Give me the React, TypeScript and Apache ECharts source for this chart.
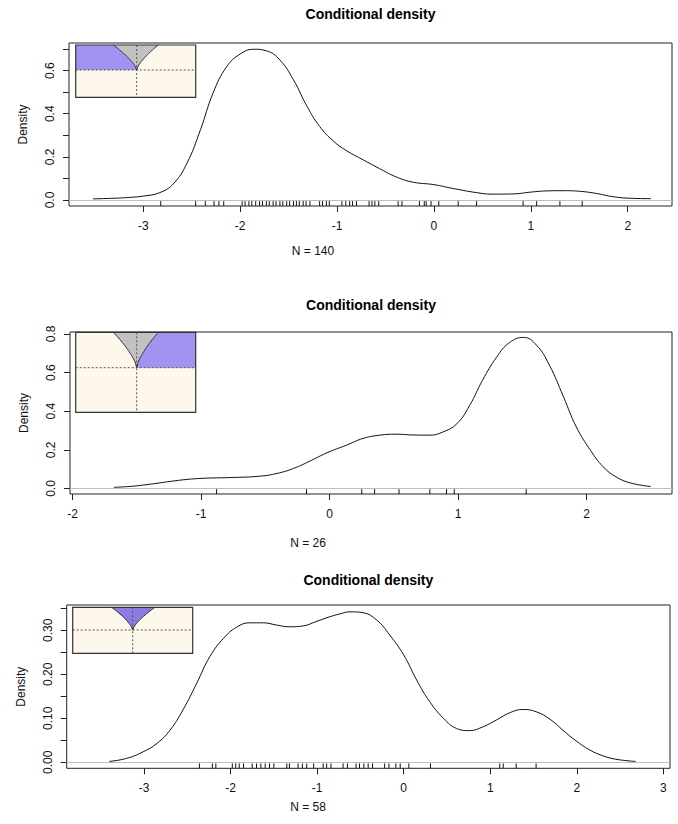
import { useEffect, useRef } from "react";
import * as echarts from "echarts";

// ---- data -------------------------------------------------------------

const TITLE = "Conditional density";
const Y_NAME = "Density";
const sampleSizes = [140, 26, 58];

// kernel density estimates, [x, density]
const curve1: [number, number][] = [
  [-3.52, 0.005], [-3.3, 0.008], [-3.17, 0.011], [-3.0, 0.018], [-2.83, 0.034],
  [-2.69, 0.075], [-2.55, 0.17], [-2.41, 0.326], [-2.28, 0.496], [-2.14, 0.618],
  [-2.0, 0.677], [-1.86, 0.699], [-1.73, 0.692], [-1.59, 0.649], [-1.45, 0.557],
  [-1.31, 0.434], [-1.18, 0.341], [-1.04, 0.274], [-0.9, 0.228], [-0.73, 0.186],
  [-0.56, 0.145], [-0.38, 0.105], [-0.21, 0.082], [0.0, 0.071], [0.2, 0.053],
  [0.44, 0.034], [0.6, 0.027], [0.82, 0.028], [0.99, 0.036], [1.16, 0.042],
  [1.33, 0.043], [1.51, 0.04], [1.68, 0.03], [1.85, 0.015], [2.02, 0.008],
  [2.24, 0.006],
];

const curve2: [number, number][] = [
  [-1.68, 0.006], [-1.53, 0.012], [-1.4, 0.022], [-1.27, 0.034], [-1.14, 0.045],
  [-1.01, 0.052], [-0.88, 0.055], [-0.75, 0.057], [-0.54, 0.064], [-0.41, 0.078],
  [-0.28, 0.104], [-0.15, 0.143], [-0.02, 0.185], [0.13, 0.224], [0.26, 0.259],
  [0.39, 0.276], [0.52, 0.281], [0.65, 0.277], [0.78, 0.276], [0.88, 0.292],
  [0.99, 0.335], [1.09, 0.43], [1.19, 0.56], [1.3, 0.68], [1.4, 0.755],
  [1.51, 0.782], [1.61, 0.742], [1.71, 0.639], [1.82, 0.475], [1.92, 0.319],
  [2.03, 0.198], [2.13, 0.112], [2.23, 0.06], [2.34, 0.029], [2.5, 0.01],
];

const curve3: [number, number][] = [
  [-3.4, 0.002], [-3.2, 0.009], [-3.01, 0.024], [-2.85, 0.043], [-2.7, 0.073],
  [-2.55, 0.119], [-2.39, 0.18], [-2.24, 0.24], [-2.08, 0.282], [-1.93, 0.307],
  [-1.78, 0.317], [-1.62, 0.317], [-1.47, 0.312], [-1.32, 0.308], [-1.16, 0.31],
  [-1.01, 0.32], [-0.85, 0.331], [-0.74, 0.337], [-0.62, 0.342], [-0.47, 0.34],
  [-0.31, 0.323], [-0.16, 0.289], [0.0, 0.244], [0.15, 0.187], [0.3, 0.138],
  [0.46, 0.1], [0.61, 0.077], [0.76, 0.072], [0.92, 0.081], [1.07, 0.096],
  [1.23, 0.113], [1.38, 0.12], [1.53, 0.115], [1.69, 0.098], [1.84, 0.073],
  [1.99, 0.049], [2.15, 0.028], [2.3, 0.015], [2.45, 0.007], [2.68, 0.002],
];

// observations shown as a rug under each curve
const rug1 = [
  -2.82, -2.46, -2.36, -2.27, -2.22, -2.17, -1.98, -1.95, -1.91, -1.88, -1.84,
  -1.8, -1.77, -1.73, -1.7, -1.66, -1.63, -1.59, -1.56, -1.52, -1.49, -1.45,
  -1.42, -1.39, -1.35, -1.32, -1.28, -1.18, -1.15, -1.11, -1.08, -0.95, -0.91,
  -0.87, -0.84, -0.8, -0.67, -0.64, -0.61, -0.57, -0.37, -0.33, -0.15, -0.1,
  -0.08, -0.03, 0.05, 0.25, 0.44, 0.92, 1.06, 1.3, 1.53,
];
const rug2 = [-0.88, -0.18, 0.25, 0.35, 0.54, 0.78, 0.91, 0.97, 1.53];
const rug3 = [
  -2.36, -2.21, -2.17, -1.98, -1.94, -1.9, -1.85, -1.75, -1.7, -1.65, -1.6,
  -1.55, -1.5, -1.35, -1.32, -1.22, -1.17, -1.12, -1.04, -0.93, -0.89, -0.84,
  -0.7, -0.65, -0.55, -0.51, -0.46, -0.41, -0.36, -0.22, -0.17, -0.09, -0.04,
  0.06, 0.31, 1.11, 1.15, 1.3, 1.53,
];

const xTicks1 = [-3, -2, -1, 0, 1, 2];
const xTicks2 = [-2, -1, 0, 1, 2];
const xTicks3 = [-3, -2, -1, 0, 1, 2, 3];
const yTicks1 = [0, 0.1, 0.2, 0.3, 0.4, 0.5, 0.6, 0.7];
const yLabels1 = [0, 0.2, 0.4, 0.6];
const yTicks2 = [0, 0.2, 0.4, 0.6, 0.8];
const yLabels2 = [0, 0.2, 0.4, 0.6, 0.8];
const yTicks3 = [0, 0.05, 0.1, 0.15, 0.2, 0.25, 0.3, 0.35];
const yLabels3 = [0, 0.1, 0.2, 0.3];

// ---- layout -----------------------------------------------------------

const FONT = "'Liberation Sans', Arial, Helvetica, sans-serif";
const LABEL_SIZE = 12;
const CREAM = "#fdf7ec";
const LILAC = "#a293f0";
const LILAC_DARK = "#8d7be4";
const GREY_V = "#c2c2c2";

type Panel = {
  curve: [number, number][];
  rug: number[];
  n: number;
  grid: { left: number; top: number; width: number; height: number };
  xMin: number;
  xMax: number;
  yMin: number;
  yMax: number;
  xTicks: number[];
  yTicks: number[];
  yLabels: number[];
  yDigits: number;
  titleY: number;
  nameX: number;
  nameY: number;
  inset: {
    x: number;
    y: number;
    w: number;
    h: number;
    vx: number;
    vy: number;
    dl: number;
    dr: number;
    fill: "left" | "right" | "v";
  };
};

const panels: Panel[] = [
  {
    curve: curve1, rug: rug1, n: sampleSizes[0],
    grid: { left: 69, top: 43, width: 603, height: 163 },
    xMin: -3.767, xMax: 2.457, yMin: -0.028, yMax: 0.728,
    xTicks: xTicks1, yTicks: yTicks1, yLabels: yLabels1, yDigits: 1,
    titleY: 7, nameX: 313, nameY: 251,
    inset: { x: 75.7, y: 45, w: 120, h: 52.3, vx: 136.7, vy: 70, dl: -23.4, dr: 21.6, fill: "left" },
  },
  {
    curve: curve2, rug: rug2, n: sampleSizes[1],
    grid: { left: 70, top: 332, width: 602, height: 162 },
    xMin: -2.021, xMax: 2.665, yMin: -0.0285, yMax: 0.81,
    xTicks: xTicks2, yTicks: yTicks2, yLabels: yLabels2, yDigits: 1,
    titleY: 298, nameX: 308, nameY: 543,
    inset: { x: 75.7, y: 332.3, w: 120, h: 80, vx: 136.7, vy: 367.7, dl: -23.4, dr: 21.6, fill: "right" },
  },
  {
    curve: curve3, rug: rug3, n: sampleSizes[2],
    grid: { left: 66.7, top: 605, width: 603.3, height: 163.3 },
    xMin: -3.893, xMax: 3.077, yMin: -0.0136, yMax: 0.3575,
    xTicks: xTicks3, yTicks: yTicks3, yLabels: yLabels3, yDigits: 2,
    titleY: 573, nameX: 308, nameY: 807,
    inset: { x: 72.7, y: 607.3, w: 120, h: 46, vx: 132.7, vy: 630, dl: -21, dr: 22.3, fill: "v" },
  },
];

// one edge of the cusp, running from the vertex up to the inset's top
function cuspEdge(vx: number, vy: number, dx: number, h: number): number[][] {
  const pts: number[][] = [];
  const steps = 18;
  for (let i = 0; i <= steps; i++) {
    const t = i / steps;
    pts.push([vx + dx * t, vy - h * Math.pow(t, 0.7)]);
  }
  return pts;
}

function insetGraphics(p: Panel["inset"]) {
  const h = p.vy - p.y;
  const left = cuspEdge(p.vx, p.vy, p.dl, h);
  const right = cuspEdge(p.vx, p.vy, p.dr, h);
  const vShape = [...left.slice().reverse(), ...right.slice(1)];
  const els: any[] = [
    { type: "rect", shape: { x: p.x, y: p.y, width: p.w, height: p.h }, style: { fill: CREAM, stroke: "none" } },
  ];
  if (p.fill === "left") {
    els.push({
      type: "polygon",
      shape: { points: [[p.x, p.y], ...left.slice().reverse(), [p.x, p.vy]] },
      style: { fill: LILAC, stroke: "none" },
    });
  } else if (p.fill === "right") {
    els.push({
      type: "polygon",
      shape: { points: [[p.x + p.w, p.y], ...right.slice().reverse(), [p.x + p.w, p.vy]] },
      style: { fill: LILAC, stroke: "none" },
    });
  }
  els.push({
    type: "polygon",
    shape: { points: vShape },
    style: { fill: p.fill === "v" ? LILAC_DARK : GREY_V, stroke: "none" },
  });
  els.push(
    {
      type: "line",
      shape: { x1: p.x, y1: p.vy, x2: p.x + p.w, y2: p.vy },
      style: { stroke: "#555", lineWidth: 1, lineDash: [2, 2] },
    },
    {
      type: "line",
      shape: { x1: p.vx, y1: p.y, x2: p.vx, y2: p.y + p.h },
      style: { stroke: "#555", lineWidth: 1, lineDash: [2, 2] },
    },
    {
      type: "polyline",
      shape: { points: vShape },
      style: { stroke: "#333", lineWidth: 1, fill: "none" },
    },
    {
      type: "rect",
      shape: { x: p.x, y: p.y, width: p.w, height: p.h },
      style: { fill: "none", stroke: "#333", lineWidth: 1.2 },
    }
  );
  return { type: "group", z: 100, children: els };
}

function buildOption() {
  const grids: any[] = [];
  const xAxes: any[] = [];
  const yAxes: any[] = [];
  const series: any[] = [];
  const titles: any[] = [];
  const graphics: any[] = [];

  panels.forEach((p, i) => {
    grids.push({ ...p.grid, show: true, borderColor: "#222", borderWidth: 1, containLabel: false });
    xAxes.push({
      type: "value",
      gridIndex: i,
      min: p.xMin,
      max: p.xMax,
      axisLine: { show: false, onZero: false },
      splitLine: { show: false },
      axisTick: { show: true, inside: false, length: 6, lineStyle: { color: "#222" }, customValues: p.xTicks },
      axisLabel: {
        show: true,
        customValues: p.xTicks,
        margin: 14,
        fontSize: LABEL_SIZE,
        fontFamily: FONT,
        color: "#111",
        formatter: (v: number) => String(v),
      },
    });
    yAxes.push({
      type: "value",
      gridIndex: i,
      min: p.yMin,
      max: p.yMax,
      name: Y_NAME,
      nameLocation: "middle",
      nameRotate: 90,
      nameGap: 40,
      nameTextStyle: { fontSize: LABEL_SIZE, fontFamily: FONT, color: "#111" },
      axisLine: { show: false, onZero: false },
      splitLine: { show: false },
      axisTick: { show: true, inside: false, length: 6, lineStyle: { color: "#222" }, customValues: p.yTicks },
      axisLabel: {
        show: true,
        customValues: p.yLabels,
        rotate: 90,
        margin: 13,
        fontSize: LABEL_SIZE,
        fontFamily: FONT,
        color: "#111",
        formatter: (v: number) => v.toFixed(p.yDigits),
      },
    });
    series.push({
      type: "line",
      xAxisIndex: i,
      yAxisIndex: i,
      data: p.curve,
      showSymbol: false,
      smooth: 0.45,
      lineStyle: { color: "#111", width: 1 },
      z: 3,
      markLine: {
        silent: true,
        symbol: "none",
        label: { show: false },
        lineStyle: { color: "#bebebe", width: 1, type: "solid" },
        data: [{ yAxis: 0 }],
      },
    });
    series.push({
      type: "custom",
      xAxisIndex: i,
      yAxisIndex: i,
      data: p.rug.map((v) => [v]),
      z: 4,
      renderItem: (params: any, api: any) => {
        const base = api.coord([api.value(0), p.yMin]);
        const len = 0.03 * params.coordSys.height;
        return {
          type: "line",
          shape: { x1: base[0], y1: base[1], x2: base[0], y2: base[1] - len },
          style: { stroke: "#111", lineWidth: 1 },
        };
      },
    });
    titles.push({
      text: TITLE,
      left: p.grid.left + p.grid.width / 2,
      top: p.titleY,
      textAlign: "center",
      padding: 0,
      textStyle: { fontSize: 14, fontWeight: "bold", fontFamily: FONT, color: "#000" },
    });
    graphics.push({
      type: "text",
      x: p.nameX,
      y: p.nameY,
      style: {
        text: `N = ${p.n}`,
        fontSize: LABEL_SIZE,
        fontFamily: FONT,
        fill: "#111",
        align: "center",
        verticalAlign: "middle",
      },
    });
    graphics.push(insetGraphics(p.inset));
  });

  return {
    animation: false,
    backgroundColor: "#ffffff",
    title: titles,
    grid: grids,
    xAxis: xAxes,
    yAxis: yAxes,
    series,
    graphic: graphics,
  };
}

export default function App() {
  const ref = useRef<HTMLDivElement>(null);

  useEffect(() => {
    document.body.style.margin = "0";
    if (!ref.current) return;
    const chart = echarts.init(ref.current, undefined, { renderer: "svg" });
    chart.setOption(buildOption() as any);
    return () => chart.dispose();
  }, []);

  return <div ref={ref} style={{ width: 678, height: 824, background: "#fff" }} />;
}
